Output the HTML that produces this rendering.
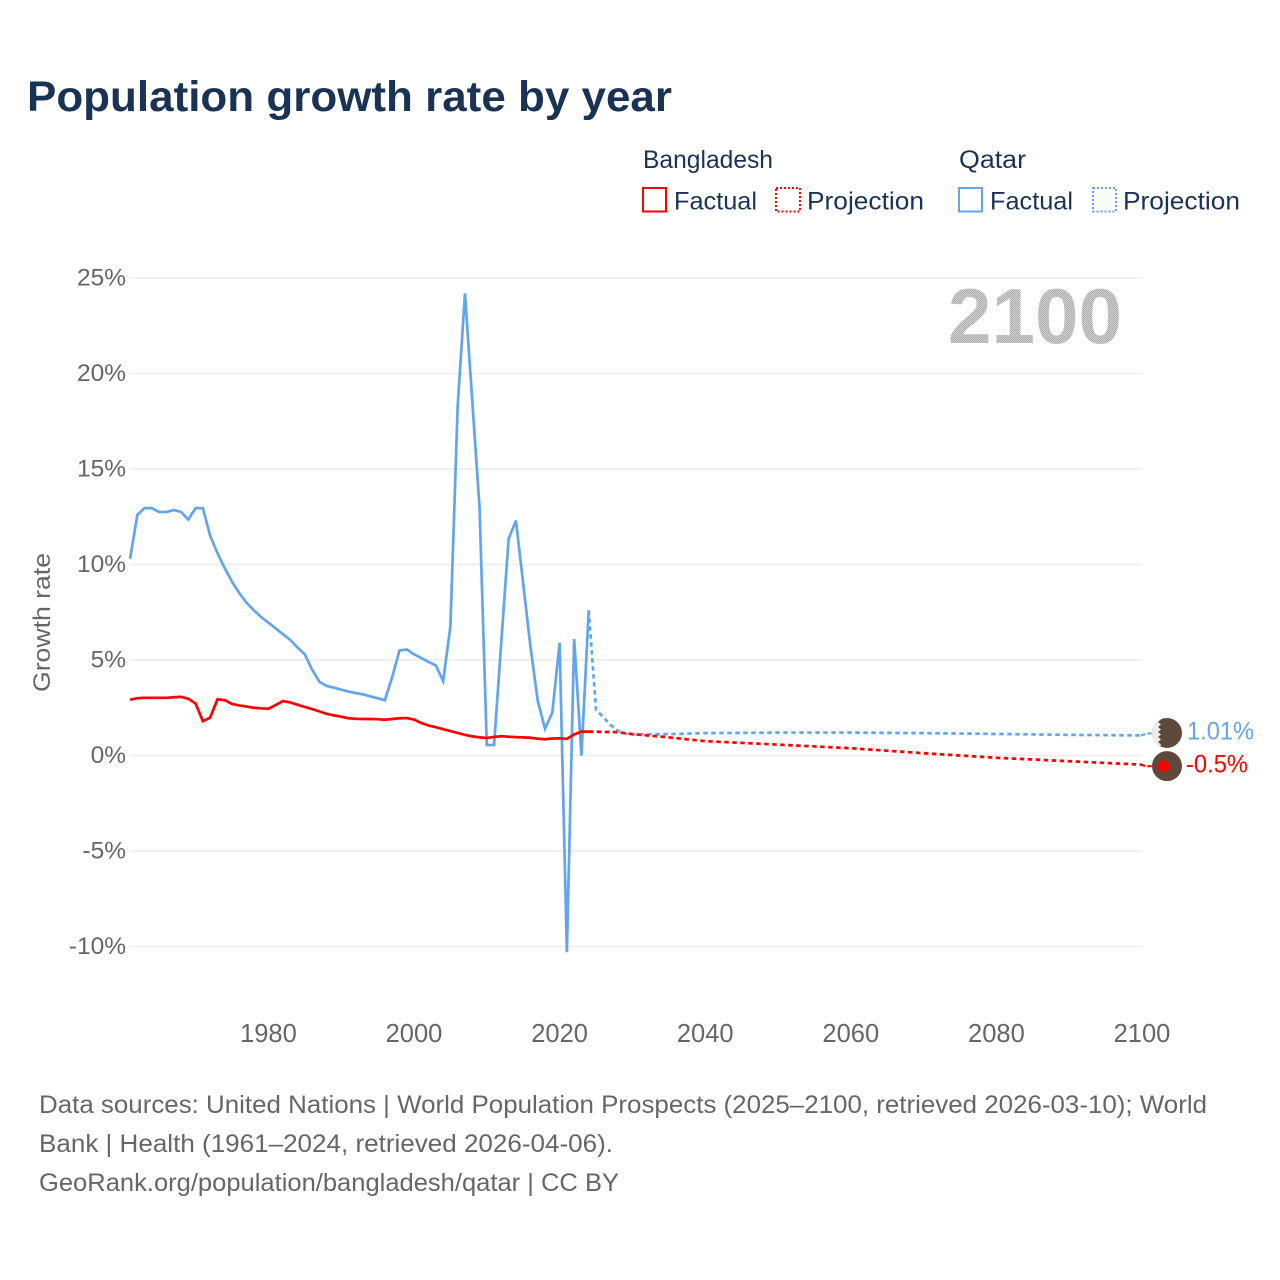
<!DOCTYPE html>
<html lang="en">
<head>
<meta charset="utf-8">
<title>Population growth rate by year</title>
<style>
html,body{margin:0;padding:0;background:#fff;}
svg{display:block;font-family:"Liberation Sans",sans-serif;}
</style>
</head>
<body>
<svg id="chart" width="1280" height="1280" viewBox="0 0 1280 1280" xmlns="http://www.w3.org/2000/svg">
<defs>
<pattern id="stipple" width="2" height="2" patternUnits="userSpaceOnUse">
<rect width="2" height="2" fill="#cfcfcf"/>
<rect width="1" height="1" fill="#aeaeae"/>
<rect x="1" y="1" width="1" height="1" fill="#aeaeae"/>
</pattern>
<clipPath id="flag-clip"><circle cx="0" cy="0" r="15"/></clipPath>
</defs>
<rect width="1280" height="1280" fill="#fff"/>
<text x="27" y="111" font-size="43" font-weight="700" fill="#1a3355" textLength="645" lengthAdjust="spacingAndGlyphs">Population growth rate by year</text>

<g font-size="25" fill="#1a3355">
<text x="643" y="168" textLength="130" lengthAdjust="spacingAndGlyphs">Bangladesh</text>
<text x="959" y="168" textLength="67" lengthAdjust="spacingAndGlyphs">Qatar</text>
<rect x="643" y="188" width="23" height="23.5" fill="none" stroke="#ff0000" stroke-width="2"/>
<text x="674" y="209.5" textLength="83" lengthAdjust="spacingAndGlyphs">Factual</text>
<rect x="776" y="188" width="24" height="23.5" fill="none" stroke="#ff0000" stroke-width="2" stroke-dasharray="2 2"/>
<text x="807" y="209.5" textLength="117" lengthAdjust="spacingAndGlyphs">Projection</text>
<rect x="959" y="188" width="23" height="23.5" fill="none" stroke="#62a5ec" stroke-width="2"/>
<text x="990" y="209.5" textLength="83" lengthAdjust="spacingAndGlyphs">Factual</text>
<rect x="1093" y="188" width="23" height="23.5" fill="none" stroke="#62a5ec" stroke-width="2" stroke-dasharray="2 2"/>
<text x="1123" y="209.5" textLength="117" lengthAdjust="spacingAndGlyphs">Projection</text>
</g>

<g id="y-grid"></g>
<g id="x-axis"></g>

<text transform="translate(50,692) rotate(-90)" font-size="24" fill="#666" textLength="139" lengthAdjust="spacingAndGlyphs">Growth rate</text>
<text x="948" y="343" font-size="78" font-weight="700" fill="url(#stipple)" textLength="174" lengthAdjust="spacingAndGlyphs">2100</text>

<g id="series"></g>
<g id="markers"></g>

<g font-size="25" fill="#666">
<text x="39" y="1113" textLength="1168" lengthAdjust="spacingAndGlyphs">Data sources: United Nations | World Population Prospects (2025–2100, retrieved 2026-03-10); World</text>
<text x="39" y="1152" textLength="574" lengthAdjust="spacingAndGlyphs">Bank | Health (1961–2024, retrieved 2026-04-06).</text>
<text x="39" y="1191" textLength="580" lengthAdjust="spacingAndGlyphs">GeoRank.org/population/bangladesh/qatar | CC BY</text>
</g>
</svg>

<script>
const factualYears = [1961,1962,1963,1964,1965,1966,1967,1968,1969,1970,1971,1972,1973,1974,1975,1976,1977,1978,1979,1980,1981,1982,1983,1984,1985,1986,1987,1988,1989,1990,1991,1992,1993,1994,1995,1996,1997,1998,1999,2000,2001,2002,2003,2004,2005,2006,2007,2008,2009,2010,2011,2012,2013,2014,2015,2016,2017,2018,2019,2020,2021,2022,2023,2024];
const bangladeshFactual = [2.92,3.0,3.02,3.02,3.02,3.02,3.05,3.07,2.97,2.72,1.8,1.98,2.94,2.9,2.7,2.62,2.56,2.5,2.47,2.45,2.64,2.85,2.78,2.66,2.54,2.43,2.31,2.18,2.1,2.03,1.95,1.92,1.91,1.91,1.9,1.87,1.91,1.95,1.96,1.88,1.7,1.57,1.48,1.38,1.28,1.18,1.08,1.0,0.95,0.92,0.97,1.01,0.98,0.96,0.95,0.93,0.88,0.85,0.89,0.9,0.87,1.1,1.25,1.25];
const qatarFactual = [10.3,12.6,12.95,12.95,12.75,12.75,12.85,12.75,12.35,12.95,12.95,11.5,10.6,9.8,9.1,8.5,8.0,7.6,7.25,6.95,6.65,6.35,6.05,5.65,5.3,4.5,3.86,3.64,3.55,3.45,3.35,3.27,3.2,3.1,3.0,2.9,4.1,5.5,5.55,5.3,5.1,4.9,4.72,3.9,6.75,18.3,24.2,18.6,13.0,0.55,0.55,6.0,11.35,12.3,9.0,5.7,2.85,1.4,2.25,5.9,-10.3,6.1,0.0,7.6];
const bangladeshProjectionYears = [2024,2028,2030,2035,2040,2050,2060,2070,2080,2090,2100];
const bangladeshProjection = [1.25,1.22,1.12,0.95,0.75,0.57,0.38,0.12,-0.12,-0.3,-0.48];
const qatarProjectionYears = [2024,2025,2026,2027,2028,2029,2030,2035,2040,2050,2060,2070,2080,2090,2100];
const qatarProjection = [7.6,2.4,2.0,1.6,1.3,1.15,1.1,1.12,1.17,1.2,1.2,1.17,1.13,1.08,1.05];
const endLabels = ["1.01%","-0.5%"];
const yTicks = [25,20,15,10,5,0,-5,-10];
const xTicks = [1980,2000,2020,2040,2060,2080,2100];

const SVGNS = "http://www.w3.org/2000/svg";
function x(year){ return 1142 - (2100 - year) * 7.28; }
function y(v){ return 755.5 - v * 19.1; }
function mk(tag, parent, attrs){
  const el = document.createElementNS(SVGNS, tag);
  for (const k in attrs) el.setAttribute(k, attrs[k]);
  parent.appendChild(el);
  return el;
}
function pts(years, vals){
  return years.map(function(yr, i){ return x(yr).toFixed(2) + "," + y(vals[i]).toFixed(2); }).join(" ");
}

const gridG = document.getElementById("y-grid");
yTicks.forEach(function(t){
  const line = mk("line", gridG, {x1:130, x2:1142, y1:y(t), y2:y(t), stroke:"#ececec", "stroke-width":1.5});
  
  
  const label = mk("text", gridG, {x:126, y:y(t)+7.5, "text-anchor":"end", "font-size":24.5, fill:"#666"});
  
  
  label.textContent = t + "%";
});

const xG = document.getElementById("x-axis");
xTicks.forEach(function(t){
  const label = mk("text", xG, {x:x(t), y:1042, "text-anchor":"middle", "font-size":25.5, fill:"#666"});
  
  
  label.textContent = t;
});

const seriesG = document.getElementById("series");
const qatarLine = mk("polyline", seriesG, {points:pts(factualYears, qatarFactual), fill:"none", stroke:"#62a5ec", "stroke-width":2.7});


const qatarProj = mk("polyline", seriesG, {points:pts(qatarProjectionYears, qatarProjection), fill:"none", stroke:"#62a5ec", "stroke-width":2.7, "stroke-dasharray":"4.5 3.5"});


const bdLine = mk("polyline", seriesG, {points:pts(factualYears, bangladeshFactual), fill:"none", stroke:"#ff0000", "stroke-width":2.7});


const bdProj = mk("polyline", seriesG, {points:pts(bangladeshProjectionYears, bangladeshProjection), fill:"none", stroke:"#ff0000", "stroke-width":2.7, "stroke-dasharray":"4.5 3.5"});



const markersG = document.getElementById("markers");
const qEnd = y(qatarProjection[qatarProjection.length - 1]);
const bEnd = y(bangladeshProjection[bangladeshProjection.length - 1]);

const qLeader = mk("polyline", markersG, {points:"1141," + qEnd + " 1147," + (qEnd-2) + " 1152," + (qEnd-2), fill:"none", stroke:"#62a5ec", "stroke-width":2.2, "stroke-dasharray":"4.5 2"});


const bLeader = mk("polyline", markersG, {points:"1141," + bEnd + " 1146," + (bEnd+1.5) + " 1152," + (bEnd+1.5), fill:"none", stroke:"#ff0000", "stroke-width":2.2, "stroke-dasharray":"4.5 2"});



const qFlag = mk("g", markersG, {transform:"translate(1167," + (qEnd-2.5) + ")"});


mk("circle", qFlag, {r:15, fill:"#5d4a3c"});
mk("polygon", qFlag, {points:"-16,-16 -8,-16 -6,-13.5 -9,-11 -6,-8.5 -9,-6 -6,-3.5 -9,-1 -6,1.5 -9,4 -6,6.5 -9,9 -6,11.5 -8,16 -16,16", fill:"#ececec", "clip-path":"url(#flag-clip)"});
const bFlag = mk("g", markersG, {transform:"translate(1167," + (bEnd+1.5) + ")"});


mk("circle", bFlag, {r:15, fill:"#5d4a3c"});
mk("circle", bFlag, {cx:-3.5, cy:0, r:6, fill:"#ff0000"});

const qLabel = mk("text", markersG, {x:1187, y:qEnd+4, "font-size":25, fill:"#62a5ec", textLength:67, lengthAdjust:"spacingAndGlyphs"});


qLabel.textContent = endLabels[0];
const bLabel = mk("text", markersG, {x:1186, y:bEnd+8, "font-size":25, fill:"#ff0000", textLength:62, lengthAdjust:"spacingAndGlyphs"});


bLabel.textContent = endLabels[1];
</script>
</body>
</html>
